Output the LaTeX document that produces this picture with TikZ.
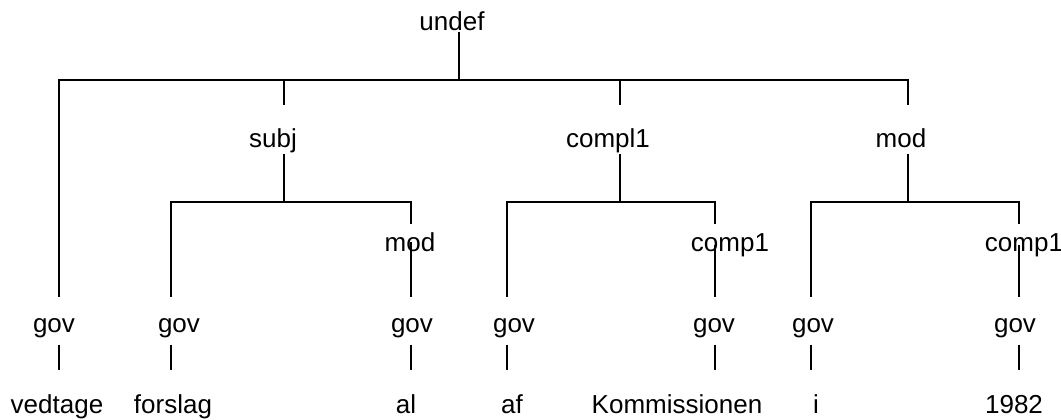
\documentclass[tikz,border=0pt]{standalone}
\usepackage{fontspec}
\setmainfont{Liberation Sans}
\begin{document}
\begin{tikzpicture}[x=.75pt,y=-.75pt,line width=1.1pt,
  lbl/.style={anchor=base,inner sep=0pt,font=\fontsize{19.5}{23}\selectfont}]
\useasboundingbox (0,0) rectangle (1061,419);
\coordinate (bar0) at (0,80);\coordinate (bar1) at (0,202);
\foreach \k/\x in {kU/459,kS/284,kC/620,kM/908} \coordinate (\k) at (\x,0);
\node[lbl] (undef) at (452,30) {undef};
\foreach \n/\x/\y/\t in {subj/273/147/subj,compl1/608/147/compl1,modB/901/147/mod,modA/410/251/mod,compA/730/251/comp1,compB/1024/251/comp1}
  \node[lbl] (\n) at (\x,\y) {\t};
\foreach \i/\c/\g/\w/\t in {1/59/54/57/vedtage,2/171/179/173/forslag,3/411/412/406/al,4/507/514/512/af,5/715/714/677/Kommissionen,6/811/813/816/i,7/1019/1015/1014/1982}{
  \coordinate (c\i) at (\c,0);
  \node[lbl] (gov\i) at (\g,332) {gov};
  \node[lbl] (w\i) at (\w,413) {\t};
  \draw[shorten <=9.75pt,shorten >=32.25pt] (gov\i.base -| c\i) -- (w\i.base -| c\i);
}
\draw[shorten <=1.5pt] (undef.base -| kU) -- (kU |- bar0);
\draw[shorten <=26.25pt,shorten >=31.5pt] (gov1.base -| c1) -- (c1 |- bar0) -- (kM |- bar0) -- (modB.base -| kM);
\foreach \k/\n in {kS/subj,kC/compl1}
  \draw[shorten >=31.5pt] (\k |- bar0) -- (\n.base -| \k);
\foreach \k/\n in {kS/subj,kC/compl1,kM/modB}
  \draw[shorten <=5.25pt] (\n.base -| \k) -- (\k |- bar1);
\foreach \a/\b/\n in {2/3/modA,4/5/compA,6/7/compB}{
  \draw[shorten <=26.25pt,shorten >=20.25pt] (gov\a.base -| c\a) -- (c\a |- bar1) -- (c\b |- bar1) -- (\n.base -| c\b);
  \draw[shorten >=26.25pt] (\n.center -| c\b) -- (gov\b.base -| c\b);
}
\end{tikzpicture}
\end{document}
